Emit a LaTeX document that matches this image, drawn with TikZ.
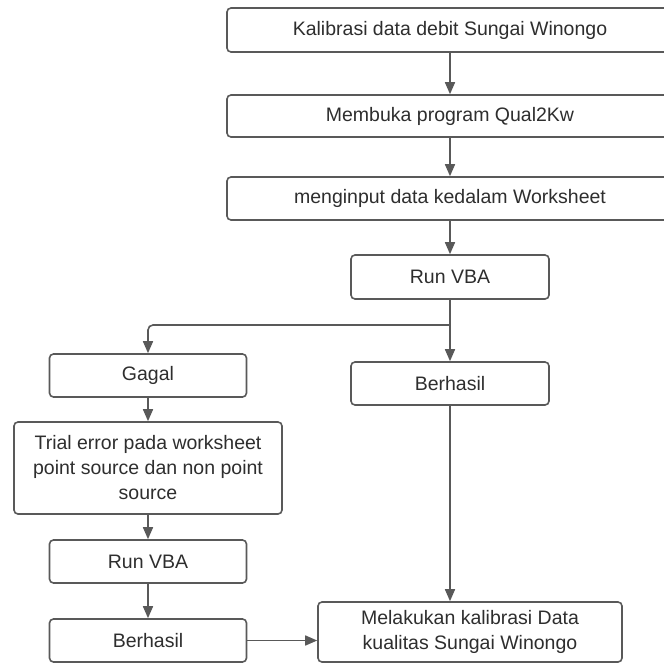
\documentclass[tikz,border=0pt]{standalone}
\usepackage{fontspec}
\setmainfont{Liberation Sans}
\usetikzlibrary{arrows.meta}
\definecolor{linegray}{HTML}{595959}
\definecolor{textgray}{HTML}{2E2E2E}

\begin{document}
\begin{tikzpicture}[x=1pt,y=-1pt,
	box/.style={draw=linegray, line width=1.6pt, rounded corners=4pt, fill=white,
		text=textgray, font=\fontsize{19.5}{25}\selectfont, align=center, inner sep=0pt},
	flow/.style={draw=linegray, line width=1.6pt, -{Triangle[length=12pt,width=10pt]}}]
	\useasboundingbox (0,0) rectangle (664,664);

	\node[box, minimum width=446, minimum height=44] (kalib) at (450,30) {Kalibrasi data debit Sungai Winongo};
	\node[box, minimum width=446, minimum height=42] (buka) at (450,116) {Membuka program Qual2Kw};
	\node[box, minimum width=446, minimum height=43] (input) at (450,198.5) {menginput data kedalam Worksheet};
	\node[box, minimum width=198, minimum height=44] (run) at (450,277) {Run VBA};
	\node[box, minimum width=197, minimum height=43] (gagal) at (148,375.5) {Gagal};
	\node[box, minimum width=198, minimum height=43] (hasil) at (450,383.5) {Berhasil};
	\node[box, minimum width=268, minimum height=92] (trial) at (148,468)
		{Trial error pada worksheet\\point source dan non point\\source};
	\node[box, minimum width=197, minimum height=43] (runb) at (148,561.5) {Run VBA};
	\node[box, minimum width=197, minimum height=43] (hasilb) at (148,640.5) {Berhasil};
	\node[box, minimum width=304, minimum height=60] (kalibb) at (470,632)
		{Melakukan kalibrasi Data\\kualitas Sungai Winongo};
	\coordinate (split) at (450,325);

	\draw[flow] (kalib) -- (buka);
	\draw[flow] (buka) -- (input);
	\draw[flow] (input) -- (run);
	\draw[flow] (run) -- (hasil);
	\draw[flow, rounded corners=5pt] (split) -| (gagal.north);
	\draw[flow] (gagal) -- (trial);
	\draw[flow] (trial) -- (runb);
	\draw[flow] (runb) -- (hasilb);
	\draw[flow] (hasil.south) -- (hasil.south |- kalibb.north);
	\draw[flow] (hasilb.east) -- (hasilb.east -| kalibb.west);
\end{tikzpicture}
\end{document}
